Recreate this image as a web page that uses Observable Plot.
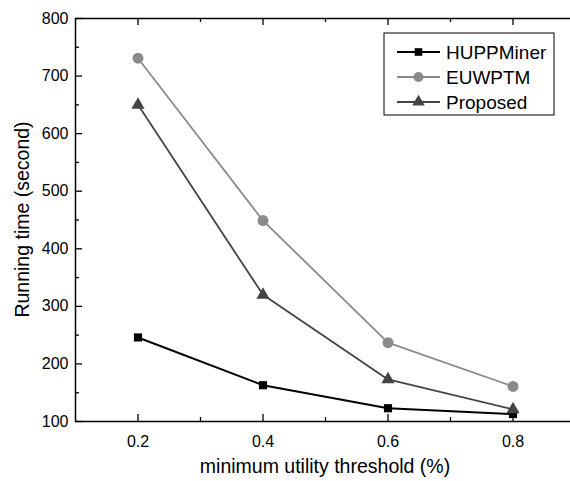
<!DOCTYPE html>
<html>
<head>
<meta charset="utf-8">
<script src="https://cdn.jsdelivr.net/npm/d3@7"></script>
<script src="https://cdn.jsdelivr.net/npm/@observablehq/plot@0.6"></script>
<style>
  html, body { margin: 0; padding: 0; background: #fff; }
  #chart { position: relative; width: 570px; height: 481px; }
</style>
</head>
<body>
<div id="chart"></div>
<script>
const thresholds = [0.2, 0.4, 0.6, 0.8];
const huppminer = [246, 163, 123, 113];
const euwptm = [731, 449, 237, 161];
const proposed = [650, 320, 173, 121];

const seriesNames = ["HUPPMiner", "EUWPTM", "Proposed"];
const seriesValues = [huppminer, euwptm, proposed];
const seriesColors = ["#000000", "#8a8a8a", "#444444"];
const seriesSymbols = ["square", "circle", "triangle"];
const seriesRadii = [4.6, 5.5, 4.9];

const xMajorTicks = [0.2, 0.4, 0.6, 0.8];
const xMinorTicks = [0.3, 0.5, 0.7];
const yMajorTicks = [100, 200, 300, 400, 500, 600, 700, 800];
const yMinorTicks = [150, 250, 350, 450, 550, 650, 750];

const xTitle = "minimum utility threshold (%)";
const yTitle = "Running time (second)";

const W = 570, H = 481, mL = 75, mR = -5, mT = 18, mB = 60;
const frameW = W - mL - mR, frameH = H - mT - mB;
const major = 7, minor = 4;

const rows = seriesNames.flatMap((name, i) =>
  thresholds.map((t, j) => ({series: name, x: t, y: seriesValues[i][j]})));

const tickStyle = {stroke: "#000", strokeWidth: 1.3};
const marks = [
  Plot.frame({stroke: "#000", strokeWidth: 1.5}),
  // tick labels
  Plot.axisX(xMajorTicks, {anchor: "bottom", label: null, tickSize: 0, tickPadding: 14, fontSize: 16, tickFormat: d => d.toFixed(1)}),
  Plot.axisY(yMajorTicks, {anchor: "left", label: null, tickSize: 0, tickPadding: 7, fontSize: 16, tickFormat: d => String(d)}),
  // inward ticks (bottom, top, left)
  Plot.ruleX(xMajorTicks, {...tickStyle, insetTop: frameH - major}),
  Plot.ruleX(xMinorTicks, {...tickStyle, insetTop: frameH - minor}),
  Plot.ruleX(xMajorTicks, {...tickStyle, insetBottom: frameH - major}),
  Plot.ruleX(xMinorTicks, {...tickStyle, insetBottom: frameH - minor}),
  Plot.ruleY(yMajorTicks, {...tickStyle, insetRight: frameW - major}),
  Plot.ruleY(yMinorTicks, {...tickStyle, insetRight: frameW - minor}),
];

seriesNames.forEach((name, i) => {
  const data = rows.filter(r => r.series === name);
  marks.push(Plot.line(data, {x: "x", y: "y", stroke: seriesColors[i], strokeWidth: i === 0 ? 2 : 1.8}));
  marks.push(Plot.dot(data, {x: "x", y: "y", symbol: seriesSymbols[i], fill: seriesColors[i], stroke: "none", r: seriesRadii[i]}));
});

const chart = Plot.plot({
  width: W,
  height: H,
  marginLeft: mL,
  marginRight: mR,
  marginTop: mT,
  marginBottom: mB,
  style: {fontFamily: "'Liberation Sans', Arial, sans-serif", color: "#000", background: "#fff"},
  x: {domain: [0.1, 0.9], axis: null},
  y: {domain: [100, 800], axis: null},
  marks
});

const svg = d3.select(chart);
// axis titles
svg.append("text")
  .attr("transform", `translate(22,${mT + frameH / 2}) rotate(-90)`)
  .attr("text-anchor", "middle").attr("dy", "0.35em")
  .attr("font-size", 19.5).attr("fill", "#000").text(yTitle);
svg.append("text")
  .attr("transform", `translate(${mL + frameW / 2},${H - 15})`)
  .attr("text-anchor", "middle").attr("dy", "0.35em")
  .attr("font-size", 19.5).attr("fill", "#000").text(xTitle);

// legend drawn inside the plot area
const lg = svg.append("g").attr("transform", "translate(384,33)");
lg.append("rect").attr("width", 170).attr("height", 82).attr("fill", "#fff").attr("stroke", "#000").attr("stroke-width", 1);
const symbolMap = {square: d3.symbolSquare, circle: d3.symbolCircle, triangle: d3.symbolTriangle};
const symbolSizes = [58, 80, 68];
seriesNames.forEach((name, i) => {
  const y = 19 + i * 25;
  const g = lg.append("g").attr("transform", `translate(0,${y})`);
  g.append("line").attr("x1", 13).attr("x2", 56).attr("y1", 0).attr("y2", 0)
    .attr("stroke", seriesColors[i]).attr("stroke-width", i === 0 ? 2 : 1.8);
  g.append("path").attr("d", d3.symbol(symbolMap[seriesSymbols[i]], symbolSizes[i])())
    .attr("transform", "translate(34.5,0)").attr("fill", seriesColors[i]);
  g.append("text").attr("x", 62).attr("y", 0).attr("dy", "0.35em")
    .attr("text-anchor", "start")
    .attr("font-size", 19).attr("fill", "#000").text(name);
});

document.getElementById("chart").appendChild(chart);
</script>
</body>
</html>
